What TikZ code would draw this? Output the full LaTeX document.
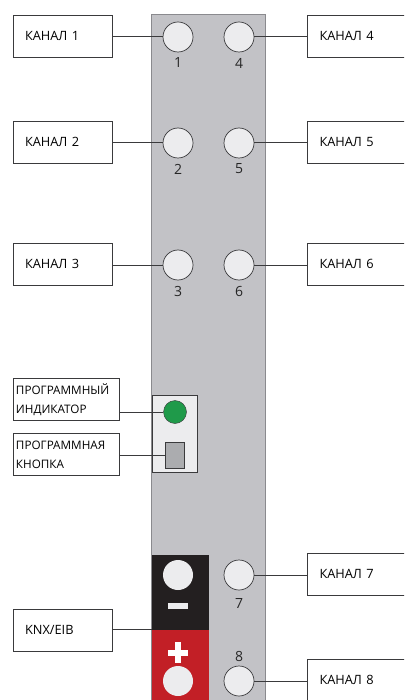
\documentclass[tikz,border=0pt]{standalone}
\usepackage{fontspec}
\setmainfont{Open Sans}
\definecolor{panelgrey}{HTML}{C2C2C6}
\definecolor{panelline}{HTML}{8A8A8E}
\definecolor{lightf}{HTML}{ECECEE}
\definecolor{ledgreen}{HTML}{1F9A4A}
\definecolor{btn}{HTML}{ABACAF}
\definecolor{termred}{HTML}{C21F26}
\definecolor{termblack}{HTML}{231F20}
\definecolor{linec}{HTML}{3A3A3C}
\newcommand{\lab}[1]{\raisebox{0.8pt}{#1}}
\tikzset{
  chbox/.style={draw=linec,line width=1pt,fill=white,rectangle,anchor=north west,minimum height=42pt,inner xsep=12pt,inner ysep=0pt,align=left,font=\fontsize{12.8}{15}\selectfont,text=black},
  leftbox/.style={chbox,minimum width=99.5pt,text width=75.5pt},
  rightbox/.style={chbox,minimum width=115pt,text width=91pt},
  progbox/.style={chbox,minimum width=106pt,text width=100pt,inner xsep=3pt,font=\fontsize{11.7}{22}\selectfont},
  port/.style={circle,draw=linec,line width=0.7pt,fill=lightf,minimum size=30pt,inner sep=0pt},
  term/.style={circle,fill=lightf,minimum size=30pt,inner sep=0pt},
  num/.style={inner sep=0pt,font=\fontsize{14}{16}\selectfont,text=black!85},
  wire/.style={draw=linec,line width=1pt}
}
\begin{document}
\begin{tikzpicture}[x=1pt,y=-1pt]
\useasboundingbox (0,0) rectangle (404,700);
\clip (0,0) rectangle (404,700);
% panel
\path[fill=panelgrey,draw=panelline,line width=0.8pt] (151.5,14.5) rectangle (265.5,705);
% programming area
\path[fill=lightf,draw=linec,line width=0.6pt] (152,395.5) rectangle (197.5,472);
% terminals
\path[fill=termblack] (151.5,555) rectangle (208.5,629.5);
\path[fill=termred] (151.5,629.5) rectangle (208.5,705);
\path[fill=lightf] (168,603) rectangle (188,609);
\path[fill=white] (168,649.5) rectangle (188,655.5);
\path[fill=white] (175,642) rectangle (181,663);
% boxes
\node[leftbox] (k1) at (12.5,15) {\lab{КАНАЛ 1}};
\node[leftbox] (k2) at (12.5,121) {\lab{КАНАЛ 2}};
\node[leftbox] (k3) at (12.5,243) {\lab{КАНАЛ 3}};
\node[rightbox] (k4) at (307,15) {\lab{КАНАЛ 4}};
\node[rightbox] (k5) at (307,121) {\lab{КАНАЛ 5}};
\node[rightbox] (k6) at (307,243) {\lab{КАНАЛ 6}};
\node[rightbox] (k7) at (307,553) {\lab{КАНАЛ 7}};
\node[rightbox] (k8) at (307,659) {\lab{КАНАЛ 8}};
\node[leftbox] (knx) at (12.5,608.5) {\lab{KNX/EIB}};
\node[progbox] (pi) at (12.5,378) {ПРОГРАММНЫЙ\\[-3pt]ИНДИКАТОР};
\node[progbox] (pb) at (12.5,433) {ПРОГРАММНАЯ\\[-3pt]КНОПКА};
% ports
\node[port] (p1) at (178,37) {};
\node[port] (p2) at (178,143) {};
\node[port] (p3) at (178,265) {};
\node[port] (p4) at (239,37) {};
\node[port] (p5) at (239,143) {};
\node[port] (p6) at (239,265) {};
\node[port] (p7) at (239,575) {};
\node[port] (p8) at (239,681) {};
\node[term] (tm) at (178,575) {};
\node[term] (tp) at (178,681) {};
% numbers
\node[num] (n1) at (178,63) {1};
\node[num] (n2) at (178,169) {2};
\node[num] (n3) at (178,291) {3};
\node[num] (n4) at (239,63) {4};
\node[num] (n5) at (239,169) {5};
\node[num] (n6) at (239,291) {6};
\node[num] (n7) at (239,603) {7};
\node[num] (n8) at (239,656.5) {8};
% programming controls
\node[circle,fill=ledgreen,draw=linec,line width=0.4pt,minimum size=23pt,inner sep=0pt] (led) at (175,412) {};
\node[rectangle,fill=btn,draw=linec,line width=0.6pt,minimum width=19pt,minimum height=26pt,inner sep=0pt] (btnn) at (174.5,455) {};
\coordinate (jn) at (151.5,629.5);
% wires
\draw[wire] (k1.east |- p1) -- (p1.west);
\draw[wire] (k2.east |- p2) -- (p2.west);
\draw[wire] (k3.east |- p3) -- (p3.west);
\draw[wire] (p4.east) -- (k4.west |- p4);
\draw[wire] (p5.east) -- (k5.west |- p5);
\draw[wire] (p6.east) -- (k6.west |- p6);
\draw[wire] (p7.east) -- (k7.west |- p7);
\draw[wire] (p8.east) -- (k8.west |- p8);
\draw[wire] (knx.east |- jn) -- (jn);
\draw[wire] (pi.east |- led) -- (led.west);
\draw[wire] (pb.east |- btnn) -- (btnn.west);
\end{tikzpicture}
\end{document}
